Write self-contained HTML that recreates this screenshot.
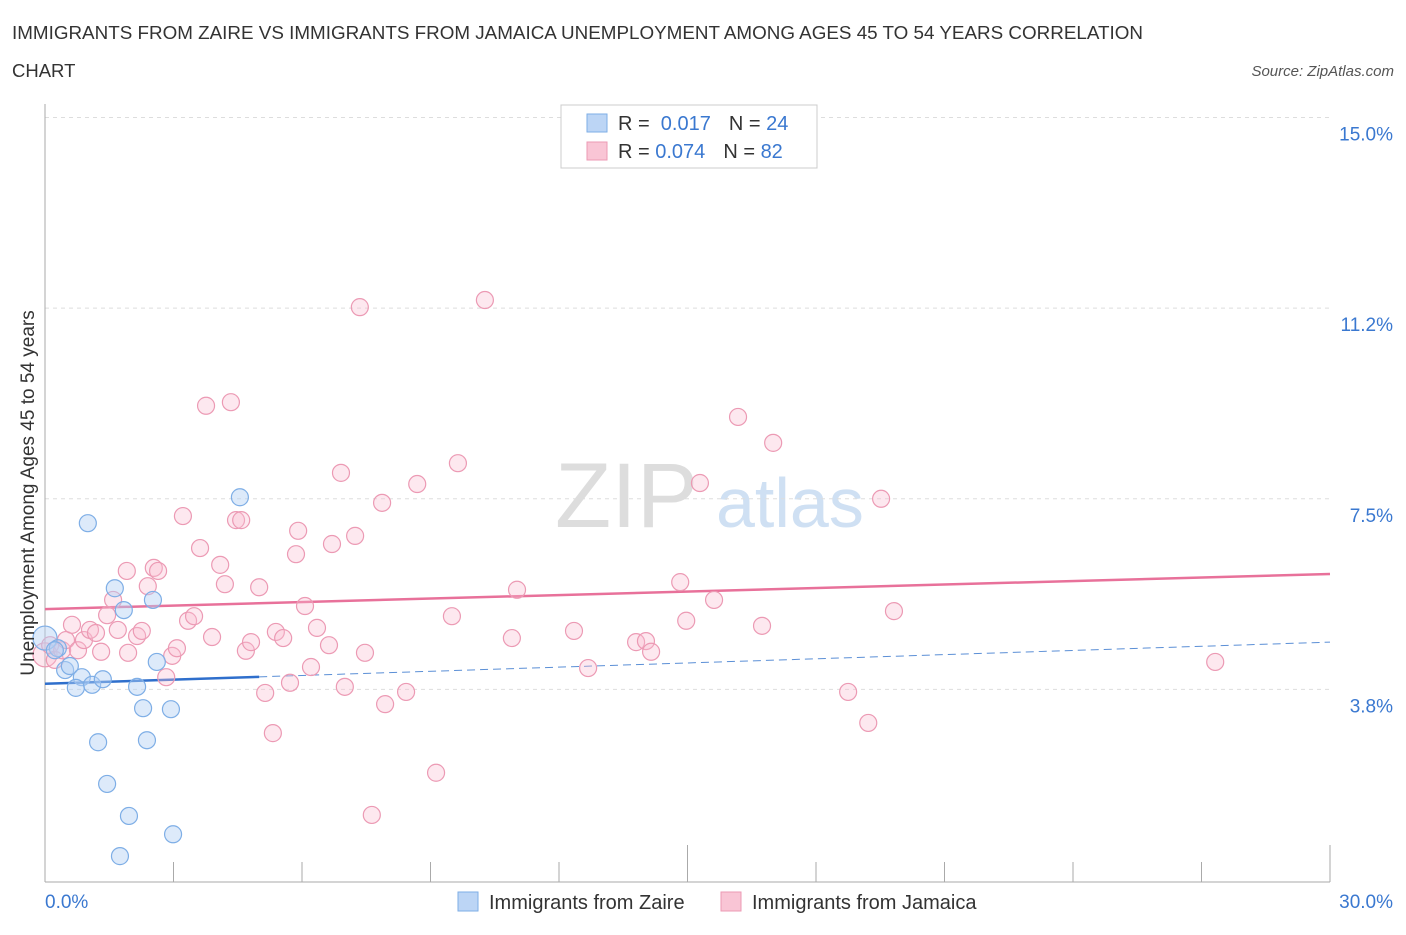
<!DOCTYPE html>
<html><head><meta charset="utf-8"><style>
body{margin:0;background:#fff;font-family:"Liberation Sans",sans-serif;}
svg text{font-family:"Liberation Sans",sans-serif;}
</style></head><body>
<svg id="chart" width="1406" height="930" xmlns="http://www.w3.org/2000/svg">
<text x="12" y="39" font-size="18.5" fill="#333" textLength="1131" lengthAdjust="spacingAndGlyphs">IMMIGRANTS FROM ZAIRE VS IMMIGRANTS FROM JAMAICA UNEMPLOYMENT AMONG AGES 45 TO 54 YEARS CORRELATION</text>
<text x="12" y="77" font-size="18.5" fill="#333">CHART</text>
<text x="1394" y="76" font-size="15" fill="#555" text-anchor="end" font-style="italic">Source: ZipAtlas.com</text>
<text x="555" y="527" font-size="92" fill="#ddd" font-family="Liberation Serif">ZIP</text>
<text x="716" y="527" font-size="70" fill="#cfe0f3">atlas</text>
<g id="grid"></g>
<g id="axes"></g>
<g id="trend"></g>
<g id="pts"></g>
<text transform="translate(34,493) rotate(-90)" font-size="19" fill="#333" text-anchor="middle">Unemployment Among Ages 45 to 54 years</text>
<g>
<rect x="561" y="105" width="256" height="63" fill="#fff" stroke="#ccc"/>
<rect x="587" y="114" width="20" height="18" fill="#bcd5f5" stroke="#7eaee6"/>
<text x="618" y="130" font-size="20" fill="#333">R = <tspan fill="#3a78d0">&#160;0.017</tspan><tspan dx="18" fill="#333">N = </tspan><tspan fill="#3a78d0">24</tspan></text>
<rect x="587" y="142" width="20" height="18" fill="#f9c5d5" stroke="#ec9ab4"/>
<text x="618" y="158" font-size="20" fill="#333">R = <tspan fill="#3a78d0">0.074</tspan><tspan dx="18" fill="#333">N = </tspan><tspan fill="#3a78d0">82</tspan></text>
</g>
<g>
<rect x="458" y="892" width="20" height="19" fill="#bcd5f5" stroke="#7eaee6"/>
<text x="489" y="909" font-size="20" fill="#333">Immigrants from Zaire</text>
<rect x="721" y="892" width="20" height="19" fill="#f9c5d5" stroke="#ec9ab4"/>
<text x="752" y="909" font-size="20" fill="#333">Immigrants from Jamaica</text>
</g>
</svg>
<script>
const yTicks=[15.0,11.2,7.5,3.8];
const yTickVals=[15,11.25,7.5,3.75];
const xTickLabels=["0.0%","30.0%"];
const zaireX=[0,0.30,0.47,0.58,0.86,1.00,0.72,1.10,1.35,1.24,1.45,1.63,1.84,1.96,1.75,2.15,2.29,2.38,2.52,2.61,2.94,2.99,4.55,0.23];
const zaireY=[4.76,4.56,4.13,4.21,3.99,7.02,3.78,3.84,3.95,2.71,1.89,5.74,5.31,1.26,0.47,3.80,3.38,2.75,5.51,4.29,3.36,0.90,7.53,4.52];
const jamX=[0,0.12,0.23,0.40,0.49,0.63,0.77,0.91,1.05,1.19,1.31,1.45,1.59,1.70,1.91,1.94,2.15,2.26,2.40,2.54,2.64,2.83,2.97,3.08,3.22,3.34,3.48,3.62,3.76,3.90,4.09,4.20,4.34,4.46,4.58,4.69,4.81,5.00,5.14,5.32,5.39,5.56,5.72,5.86,5.91,6.07,6.21,6.35,6.63,6.70,6.91,7.00,7.24,7.35,7.47,7.63,7.87,7.94,8.43,8.69,9.13,9.50,9.64,10.27,10.90,11.02,12.35,12.68,13.80,14.03,14.15,14.83,14.97,15.29,15.62,16.18,16.74,17.00,18.75,19.22,19.52,19.82,27.32];
const jamY=[4.43,4.62,4.33,4.52,4.72,5.02,4.52,4.72,4.92,4.86,4.49,5.21,5.51,4.92,6.08,4.47,4.80,4.90,5.78,6.14,6.08,3.99,4.41,4.56,7.16,5.10,5.19,6.53,9.33,4.78,6.20,5.82,9.40,7.08,7.08,4.51,4.68,5.76,3.68,2.89,4.88,4.76,3.88,6.41,6.87,5.39,4.19,4.96,4.62,6.61,8.01,3.80,6.77,11.27,4.47,1.28,7.42,3.46,3.70,7.79,2.11,5.19,8.20,11.41,4.76,5.71,4.90,4.17,4.68,4.70,4.49,5.86,5.10,7.81,5.51,9.11,5.00,8.60,3.70,3.09,7.50,5.29,4.29];
const zaireTrend=[3.86,4.68];
const jamTrend=[5.33,6.02];
const zaireSolidEnd=5.0;
const NS="http://www.w3.org/2000/svg";
const X=v=>45+v*(1285/30);
const Y=v=>880-v*50.83;
function mk(t,a,p){const e=document.createElementNS(NS,t);for(const k in a)e.setAttribute(k,a[k]);p.appendChild(e);return e;}
const grid=document.getElementById('grid'),axes=document.getElementById('axes');
yTickVals.forEach((v,i)=>{
 const l=mk('line',{x1:45,x2:1330,y1:Y(v),y2:Y(v),stroke:'#ddd','stroke-dasharray':'4,4'},grid);
 
 
 const t=mk('text',{x:1393,y:Y(v)+23,'font-size':19,fill:'#3a78d0','text-anchor':'end'},axes);
 t.textContent=yTicks[i].toFixed(1)+'%';
 
 
});
const ax=mk('line',{x1:45,x2:45,y1:104,y2:882,stroke:'#aaa'},axes);


const bx=mk('line',{x1:45,x2:1330,y1:882,y2:882,stroke:'#aaa'},axes);


for(let i=0;i<=10;i++){const x=45+i*128.5;const tk=mk('line',{x1:x,x2:x,y1:882,y2:(i%5==0?845:862),stroke:'#aaa'},axes);
 
 }
xTickLabels.forEach((s,i)=>{const t=mk('text',{x:i?1393:45,y:908,'font-size':19,fill:'#3a78d0','text-anchor':i?'end':'start'},axes);t.textContent=s;
 
 });
const tr=document.getElementById('trend');
const zy=x=>zaireTrend[0]+(zaireTrend[1]-zaireTrend[0])*x/30;
let l1=mk('line',{x1:X(zaireSolidEnd),y1:Y(zy(zaireSolidEnd)),x2:X(30),y2:Y(zaireTrend[1]),stroke:'#5b8fd6','stroke-width':1,'stroke-dasharray':'8,5'},tr);


let l2=mk('line',{x1:X(0),y1:Y(zaireTrend[0]),x2:X(zaireSolidEnd),y2:Y(zy(zaireSolidEnd)),stroke:'#2f6fcc','stroke-width':2.5},tr);


let l3=mk('line',{x1:X(0),y1:Y(jamTrend[0]),x2:X(30),y2:Y(jamTrend[1]),stroke:'#e8719a','stroke-width':2.5},tr);


const pts=document.getElementById('pts');
jamX.forEach((x,i)=>{const c=mk('circle',{cx:X(x),cy:Y(jamY[i]),r:i==0?12:8.5,fill:'rgba(249,190,210,0.35)',stroke:'#ec9ab4','stroke-width':1.2},pts);
 
 });
zaireX.forEach((x,i)=>{const c=mk('circle',{cx:X(x),cy:Y(zaireY[i]),r:i==0?12:8.5,fill:'rgba(180,208,245,0.45)',stroke:'#7eaee6','stroke-width':1.2},pts);
 
 });
</script>
</body></html>
